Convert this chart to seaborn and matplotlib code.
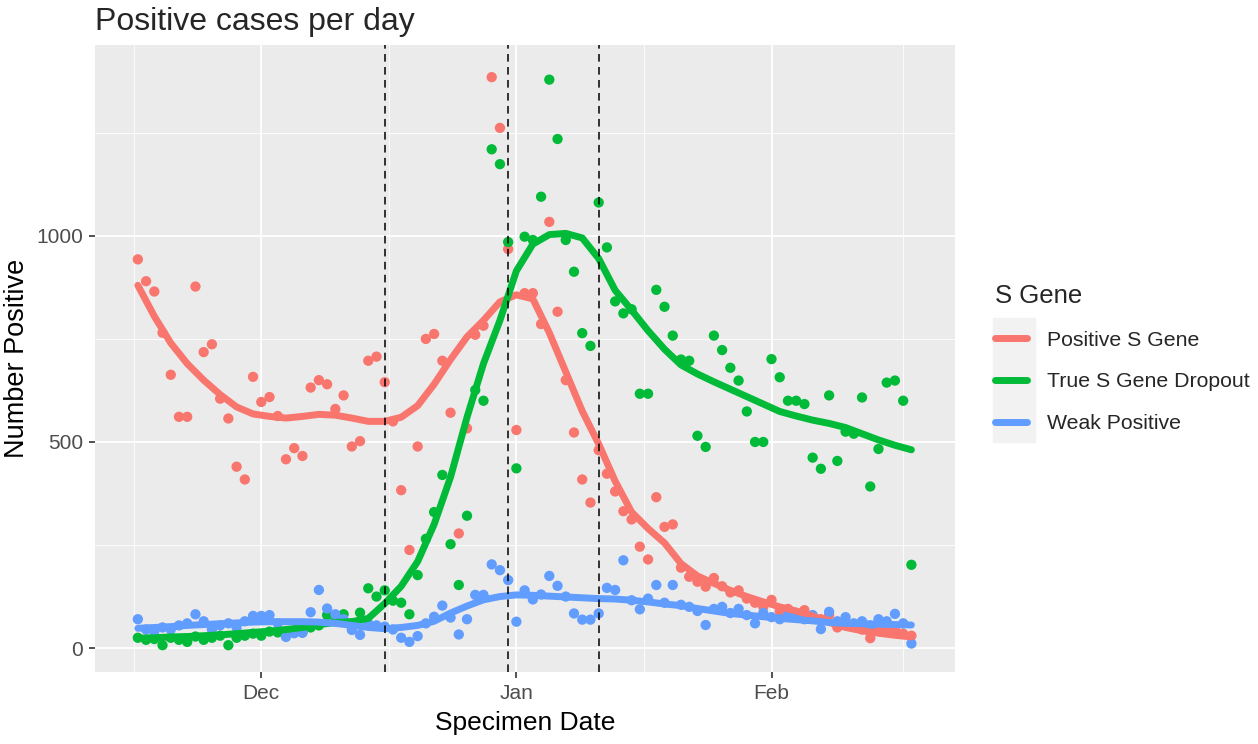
import matplotlib
matplotlib.use("Agg")
import matplotlib.pyplot as plt
from matplotlib.lines import Line2D
from matplotlib.patches import Rectangle
import pandas as pd
import seaborn as sns

# daily counts, 16 Nov 2020 .. 18 Feb 2021
start_date = "2020-11-16"
groups = ["Positive S Gene", "True S Gene Dropout", "Weak Positive"]
colors = ["#F8766D", "#00BA38", "#619CFF"]

positive = [943, 890, 865, 765, 663, 561, 561, 877, 718, 737,
            605, 557, 440, 409, 658, 597, 609, 563, 458, 485,
            466, 632, 650, 640, 580, 613, 489, 502, 697, 707,
            645, 550, 383, 238, 489, 750, 762, 697, 571, 278,
            533, 760, 782, 1385, 1262, 968, 529, 861, 861, 786,
            1034, 816, 650, 523, 409, 353, 480, 423, 380, 332,
            312, 246, 215, 366, 294, 300, 195, 173, 161, 149,
            170, 150, 135, 140, 120, 110, 100, 117, 90, 95,
            85, 92, 75, 70, 80, 50, 60, 55, 45, 24,
            50, 40, 45, 35, 30]
dropout = [25, 20, 22, 7, 25, 20, 15, 28, 20, 25,
           30, 7, 25, 30, 35, 30, 40, 38, 35, 40,
           38, 50, 55, 80, 65, 82, 60, 86, 145, 125,
           140, 115, 110, 82, 177, 265, 330, 420, 252, 153,
           321, 626, 600, 1210, 1174, 985, 436, 998, 990, 1095,
           1379, 1235, 990, 913, 764, 733, 1081, 972, 841, 812,
           822, 617, 617, 869, 828, 758, 700, 697, 515, 488,
           758, 723, 680, 649, 574, 500, 500, 701, 657, 600,
           600, 592, 462, 435, 613, 454, 525, 520, 608, 392,
           483, 644, 649, 600, 202]
weak = [70, 45, 40, 50, 45, 55, 60, 82, 65, 45,
        55, 60, 50, 65, 78, 78, 80, 60, 27, 36,
        37, 87, 141, 96, 82, 70, 44, 32, 60, 55,
        52, 45, 25, 15, 29, 60, 76, 103, 74, 33,
        70, 129, 129, 203, 189, 165, 64, 140, 118, 130,
        175, 151, 125, 84, 69, 69, 84, 146, 141, 213,
        116, 94, 120, 153, 110, 153, 105, 100, 90, 56,
        95, 100, 85, 95, 80, 60, 85, 75, 70, 80,
        75, 70, 80, 46, 88, 65, 75, 60, 65, 55,
        70, 65, 83, 60, 11]

# smoothed trend, read every 2 days
positive_smooth = [880, 805, 740, 690, 650, 615, 585, 568, 562, 558,
                   562, 567, 565, 558, 550, 550, 560, 588, 640, 700,
                   755, 795, 840, 857, 847, 765, 670, 575, 495, 405,
                   330, 290, 255, 205, 175, 157, 140, 125, 112, 100,
                   90, 78, 62, 50, 42, 36, 31, 27]
dropout_smooth = [24, 25, 27, 28, 30, 32, 35, 38, 41, 45,
                  50, 57, 62, 64, 72, 108, 150, 210, 300, 415,
                  560, 690, 795, 915, 980, 1003, 1006, 995, 945, 868,
                  820, 770, 725, 687, 665, 646, 628, 610, 592, 574,
                  563, 553, 545, 535, 520, 505, 492, 481]
weak_smooth = [48, 50, 52, 55, 57, 59, 61, 63, 64, 64,
               64, 63, 60, 55, 50, 47, 50, 55, 65, 85,
               102, 117, 125, 129, 128, 126, 124, 122, 120, 119,
               116, 112, 107, 103, 96, 90, 84, 80, 76, 72,
               69, 66, 62, 60, 59, 58, 57, 56]

event_dates = ["2020-12-16", "2020-12-31", "2021-01-11"]
month_ticks = ["2020-12-01", "2021-01-01", "2021-02-01"]
month_labels = ["Dec", "Jan", "Feb"]
minor_dates = ["2020-11-15 12:00", "2020-12-16 12:00", "2021-01-16 12:00", "2021-02-17 00:00"]

days = pd.date_range(start_date, periods=len(positive), freq="D")
df = pd.concat([pd.DataFrame({"date": days, "count": v, "gene": g})
                for g, v in zip(groups, [positive, dropout, weak])])
sdays = pd.date_range(start_date, periods=len(positive_smooth), freq="2D")
sdf = pd.concat([pd.DataFrame({"date": sdays, "count": v, "gene": g})
                 for g, v in zip(groups, [positive_smooth, dropout_smooth, weak_smooth])])

sns.set_theme(style="darkgrid", rc={"axes.facecolor": "#EBEBEB", "grid.color": "white"})
plt.rcParams["font.family"] = ["Liberation Sans", "DejaVu Sans"]

fig = plt.figure(figsize=(12.58, 7.44), dpi=100)
ax = fig.add_axes([0.0755, 0.0968, 0.6836, 0.8427])

sns.scatterplot(data=df, x="date", y="count", hue="gene", palette=colors,
                s=55, linewidth=0, legend=False, ax=ax, zorder=3)
sns.lineplot(data=sdf, x="date", y="count", hue="gene", palette=colors,
             linewidth=5, legend=False, ax=ax, zorder=4,
             solid_capstyle="round")

for d in event_dates:
    ax.axvline(pd.Timestamp(d), color="black", linewidth=1.1,
               linestyle=(0, (5, 3.5)), zorder=5)

ax.set_xlim(pd.Timestamp("2020-11-10 19:00"), pd.Timestamp("2021-02-23 07:00"))
ax.set_ylim(-58, 1463)
ax.set_xticks(pd.to_datetime(month_ticks), labels=month_labels)
ax.set_xticks(pd.to_datetime(minor_dates), minor=True)
ax.set_yticks([0, 500, 1000])
ax.set_yticks([250, 750, 1250], minor=True)
ax.grid(which="major", color="white", linewidth=1.3)
ax.grid(which="minor", color="white", linewidth=0.6)
ax.tick_params(which="major", bottom=True, left=True, length=4.5, width=1.2,
               color="#333333", labelsize=15, labelcolor="#4D4D4D", pad=4)
ax.tick_params(which="minor", length=0)
for s in ax.spines.values():
    s.set_visible(False)

ax.set_xlabel("Specimen Date", fontsize=19, color="black")
ax.set_ylabel("Number Positive", fontsize=19.5, color="black")
ax.xaxis.set_label_coords(0.5, -0.062)
ax.yaxis.set_label_coords(-0.076, 0.5)
ax.set_title("Positive cases per day", loc="left", fontsize=23, pad=11)

# legend
fig.patches.append(Rectangle((993 / 1258, 1 - 442 / 744), 42 / 1258, 124 / 744,
                             transform=fig.transFigure, color="#F2F2F2", zorder=0))
handles = [Line2D([], [], color=c, linewidth=5, marker="o", markersize=3)
           for c in colors]
leg = fig.legend(handles, groups, title="S Gene", loc="upper left",
                 bbox_to_anchor=(995 / 1258, 1 - 284 / 744), frameon=False,
                 fontsize=15.3, title_fontsize=18.5, handlelength=1.5,
                 handletextpad=0.95, labelspacing=1.07, borderpad=0,
                 borderaxespad=0, alignment="left")

fig.savefig("out.png", dpi=100)
